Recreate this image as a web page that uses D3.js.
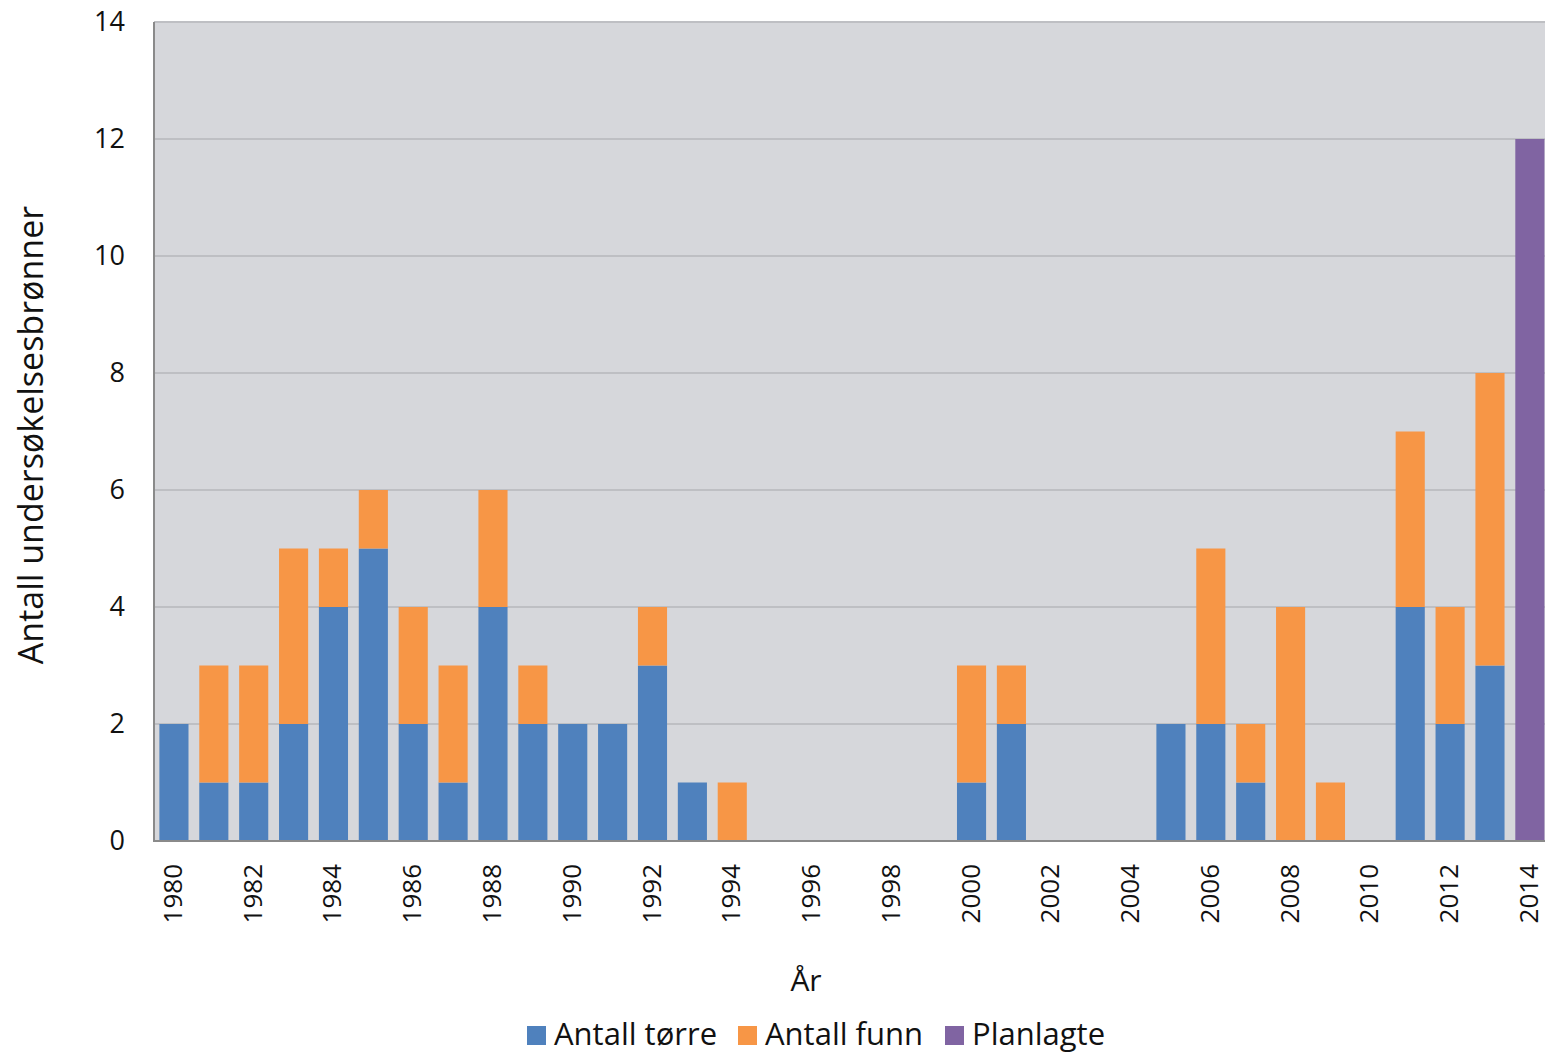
<!DOCTYPE html>
<html><head><meta charset="utf-8">
<script src="https://cdn.jsdelivr.net/npm/d3@7"></script>
<style>body{margin:0;background:#fff;}svg{display:block;font-family:"Open Sans",sans-serif;}</style>
</head><body><svg id="c" width="1545" height="1053"></svg>
<script>
const years = d3.range(1980, 2015).map(String);
const dry = [2,1,1,2,4,5,2,1,4,2,2,2,3,1,0,0,0,0,0,0,1,2,0,0,0,2,2,1,0,0,0,4,2,3,0];
const finds = [0,2,2,3,1,1,2,2,2,1,0,0,1,0,1,0,0,0,0,0,2,1,0,0,0,0,3,1,4,1,0,3,2,5,0];
const planned = [0,0,0,0,0,0,0,0,0,0,0,0,0,0,0,0,0,0,0,0,0,0,0,0,0,0,0,0,0,0,0,0,0,0,12];
const seriesNames = ["Antall tørre","Antall funn","Planlagte"];
const seriesColors = ["#4F81BD","#F79646","#8064A2"];
const yTicks = [0,2,4,6,8,10,12,14];
const xTickLabels = years.filter((d,i)=>i%2===0);

(function(){
const svg = d3.select("#c");
const pLeft=154, pTop=22, pBottom=841, bandW=39.88;
const x = d3.scaleBand().domain(years).range([pLeft, pLeft+bandW*years.length]).paddingInner(0.27).paddingOuter(0.135);
const y = d3.scaleLinear().domain([0,14]).range([pBottom, pTop]);

svg.append("rect").attr("x",pLeft).attr("y",pTop).attr("width",1545-pLeft).attr("height",pBottom-pTop).attr("fill","#D6D7DB");
svg.append("g").selectAll("line").data(yTicks.filter(d=>d>0)).join("line")
  .attr("x1",pLeft).attr("x2",1545).attr("y1",d=>y(d)).attr("y2",d=>y(d))
  .attr("stroke","#BEBFC3").attr("stroke-width",2);

const rows = years.map((yr,i)=>({year:yr, "Antall tørre":dry[i], "Antall funn":finds[i], "Planlagte":planned[i]}));
const stack = d3.stack().keys(seriesNames)(rows);
svg.append("g").selectAll("g").data(stack).join("g").attr("fill",(d,i)=>seriesColors[i])
  .selectAll("rect").data(d=>d.filter(p=>p[1]-p[0]>0)).join("rect")
  .attr("x",d=>x(d.data.year)).attr("width",x.bandwidth())
  .attr("y",d=>y(d[1])).attr("height",d=>y(d[0])-y(d[1]));

svg.append("line").attr("x1",pLeft).attr("x2",pLeft).attr("y1",pTop).attr("y2",pBottom+1).attr("stroke","#8A8A8A").attr("stroke-width",2);
svg.append("line").attr("x1",pLeft).attr("x2",1545).attr("y1",pBottom).attr("y2",pBottom).attr("stroke","#8A8A8A").attr("stroke-width",2);

svg.append("g").selectAll("text").data(yTicks).join("text")
  .attr("x",125).attr("y",d=>y(d)).attr("dy","0.35em").attr("text-anchor","end")
  .attr("font-size",27).attr("fill","#111").text(d=>d);

svg.append("g").selectAll("text").data(xTickLabels).join("text")
  .attr("transform",d=>`translate(${x(d)+x.bandwidth()/2+8},864) rotate(-90)`)
  .attr("text-anchor","end").attr("font-size",26).attr("fill","#111").text(d=>d);

svg.append("text").attr("transform","translate(43,435) rotate(-90)").attr("text-anchor","middle")
  .attr("font-size",34).attr("fill","#111").text("Antall undersøkelsesbrønner");
svg.append("text").attr("x",806).attr("y",991).attr("text-anchor","middle").attr("font-size",30).attr("fill","#111").text("År");

const lx=[527,738,945];
const lg = svg.append("g").selectAll("g").data(seriesNames).join("g").attr("transform",(d,i)=>`translate(${lx[i]},1026)`);
lg.append("rect").attr("width",19).attr("height",19).attr("fill",(d,i)=>seriesColors[i]);
lg.append("text").attr("x",27).attr("y",19).attr("font-size",31).attr("fill","#111").text(d=>d);
})();
</script></body></html>
